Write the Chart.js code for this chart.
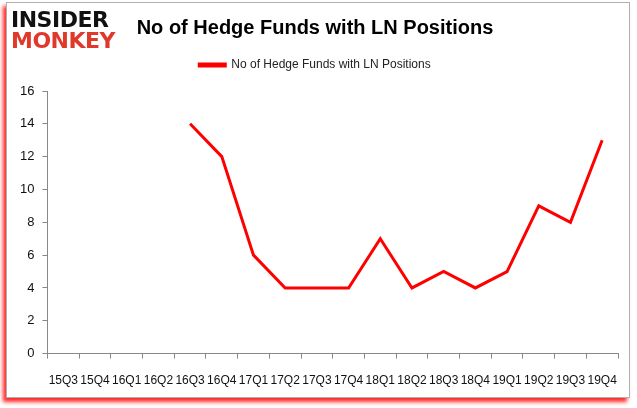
<!DOCTYPE html>
<html>
<head>
<meta charset="utf-8">
<script src="https://cdn.jsdelivr.net/npm/chart.js@4.4.0/dist/chart.umd.min.js"></script>
<style>
    body { margin: 0; background: #fff; }
    .wrap { position: relative; width: 637px; height: 408px; overflow: hidden; }
    .frame {
        position: absolute; left: 6px; top: 2px; width: 622px; height: 394px;
        border: 1px solid #b0b0b0; background: #fff;
        box-shadow: -3px 4px 4px rgba(255, 0, 0, 0.85);
    }
    .logo { position: absolute; left: 11px; top: 9px; font-family: "DejaVu Sans", sans-serif; font-weight: bold; line-height: 21px; letter-spacing: -0.5px; }
    .logo .a { color: #111; font-size: 22px; }
    .logo .b { color: #e0392b; font-size: 22px; }
    canvas { position: absolute; left: 0; top: 0; }
</style>
</head>
<body>
<div class="wrap">
    <div class="frame"></div>
    <canvas id="chart" width="637" height="408"></canvas>
    <div class="logo"><div class="a">INSIDER</div><div class="b">MONKEY</div></div>
</div>
<script>
// Data
const quarters = ['15Q3', '15Q4', '16Q1', '16Q2', '16Q3', '16Q4', '17Q1', '17Q2', '17Q3', '17Q4',
    '18Q1', '18Q2', '18Q3', '18Q4', '19Q1', '19Q2', '19Q3', '19Q4'];
const hedgeFunds = [null, null, null, null, 14, 12, 6, 4, 4, 4, 7, 4, 5, 4, 5, 9, 8, 13];
const yTicks = [0, 2, 4, 6, 8, 10, 12, 14, 16];

const axisColor = '#888888';

// Extra room under the legend
const legendSpacer = {
    id: 'legendSpacer',
    beforeInit(chart) {
        const fit = chart.legend.fit;
        chart.legend.fit = function () {
            fit.call(this);
            this.height += 10;
        };
    }
};

new Chart(document.getElementById('chart'), {
    type: 'line',
    data: {
        labels: quarters,
        datasets: [{
            label: 'No of Hedge Funds with LN Positions',
            data: hedgeFunds,
            borderColor: '#ff0000',
            backgroundColor: '#ff0000',
            borderWidth: 3,
            pointRadius: 0,
            tension: 0,
            spanGaps: false
        }]
    },
    plugins: [legendSpacer],
    options: {
        responsive: false,
        animation: false,
        layout: { padding: { left: 12, right: 19, top: 0, bottom: 5 } },
        plugins: {
            title: {
                display: true,
                text: 'No of Hedge Funds with LN Positions',
                color: '#000',
                font: { family: 'Liberation Sans', size: 20, weight: 'bold' },
                padding: { top: 16, bottom: 5 }
            },
            legend: {
                display: true,
                labels: {
                    color: '#222',
                    font: { family: 'Liberation Sans', size: 12 },
                    boxWidth: 26,
                    boxHeight: 2,
                    padding: 14
                }
            },
            tooltip: { enabled: false }
        },
        scales: {
            x: {
                offset: true,
                grid: { display: true, offset: true, drawOnChartArea: false, drawTicks: true, tickLength: 5, color: axisColor },
                border: { color: axisColor, width: 1 },
                ticks: {
                    color: '#111',
                    font: { family: 'Liberation Sans', size: 12 },
                    autoSkip: false,
                    maxRotation: 0,
                    padding: 15
                }
            },
            y: {
                min: 0,
                max: 16,
                afterBuildTicks: axis => { axis.ticks = yTicks.map(v => ({ value: v })); },
                grid: { display: true, drawOnChartArea: false, drawTicks: true, tickLength: 5, color: axisColor },
                border: { color: axisColor, width: 1 },
                ticks: {
                    color: '#111',
                    font: { family: 'Liberation Sans', size: 13 },
                    padding: 8
                }
            }
        }
    }
});
</script>
</body>
</html>
